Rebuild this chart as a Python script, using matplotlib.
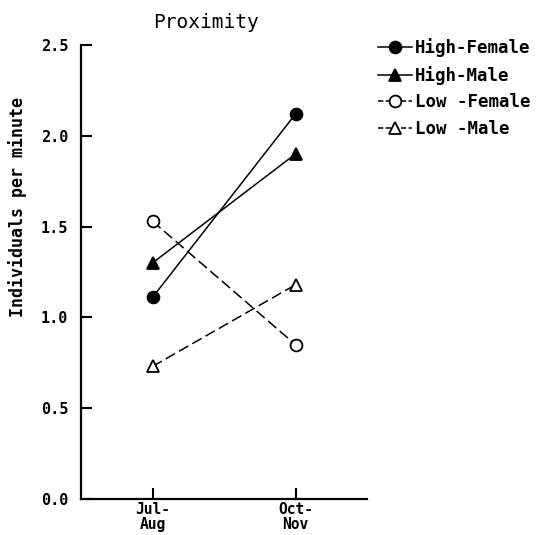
import matplotlib
matplotlib.use("Agg")
import matplotlib.pyplot as plt
from matplotlib.lines import Line2D

periods = ["Jul-\nAug", "Oct-\nNov"]
series_names = ["High-Female", "High-Male", "Low -Female", "Low -Male"]
high_female = [1.11, 2.12]
high_male = [1.30, 1.90]
low_female = [1.53, 0.85]
low_male = [0.73, 1.18]
yticks = [0.0, 0.5, 1.0, 1.5, 2.0, 2.5]
ytick_labels = ["0.0", "0.5", "1.0", "1.5", "2.0", "2.5"]

FONT = "DejaVu Sans Mono"

fig = plt.figure(figsize=(5.56, 5.35), dpi=100)
ax = fig.add_axes([81/556, 36/535, (367-81)/556, (499-45)/535])

x = [1, 2]
styles = [
    (high_female, "o", "black", "-", "-"),
    (high_male, "^", "black", "-", "-"),
    (low_female, "o", "white", (0, (7, 3)), (0, (3.5, 1.5))),
    (low_male, "^", "white", (0, (7, 3)), (0, (3.5, 1.5))),
]
handles = []
for (vals, m, fc, ls, lls), name in zip(styles, series_names):
    ax.plot(x, vals, linestyle=ls, color="black", linewidth=1.1,
            marker=m, markersize=8.5,
            markerfacecolor=fc, markeredgecolor="black", markeredgewidth=1.3,
            clip_on=False)
    handles.append(Line2D([], [], linestyle=lls, color="black", linewidth=1.1,
                          marker=m, markersize=8.5, markerfacecolor=fc,
                          markeredgecolor="black", markeredgewidth=1.3, label=name))

ax.set_xlim(0.5, 2.5)
ax.set_ylim(0, 2.5)
ax.set_xticks(x)
ax.set_xticklabels(periods, fontfamily=FONT, fontweight="bold", fontsize=10.5,
                   linespacing=1.0)
ax.set_yticks(yticks)
ax.set_yticklabels(ytick_labels, fontfamily=FONT, fontweight="bold", fontsize=11)
ax.tick_params(axis="both", direction="in", length=8, width=1.5, color="black")
ax.tick_params(axis="y", pad=9)
ax.tick_params(axis="x", pad=2)
for s in ["top", "right"]:
    ax.spines[s].set_visible(False)
for s in ["left", "bottom"]:
    ax.spines[s].set_linewidth(1.6)

fig.text(18/556, 1 - 207/535, "Individuals per minute", rotation=90,
         ha="center", va="center", fontfamily=FONT, fontweight="bold",
         fontsize=12)
fig.text(206/556, 1 - 22/535, "Proximity", ha="center", va="center",
         fontfamily=FONT, fontsize=14)

leg = fig.legend(handles=handles, loc="upper left",
                 bbox_to_anchor=(378/556, 1 - 38/535), frameon=False,
                 prop={"family": FONT, "weight": "bold", "size": 12.5},
                 handlelength=1.95, handletextpad=0.2, labelspacing=0.5,
                 borderaxespad=0, borderpad=0)

fig.savefig("out.png", dpi=100)
